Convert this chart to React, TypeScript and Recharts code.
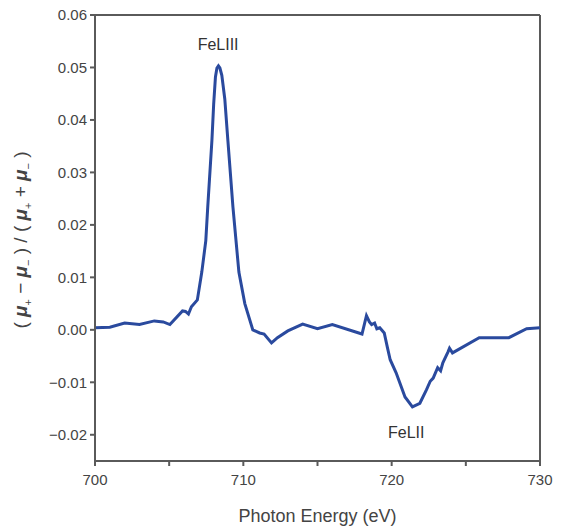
import { LineChart, Line, XAxis, YAxis, ReferenceLine, Label } from 'recharts';

const energy = [
  700, 701, 702, 703, 704, 704.6, 705.05, 705.9, 706.1, 706.3, 706.5, 706.9, 707.2, 707.47, 707.6, 707.88,
  708.0, 708.12, 708.22, 708.32, 708.42, 708.55, 708.75, 708.96, 709.3, 709.7, 710.1, 710.64, 711.1, 711.4, 711.9,
  712.3, 713.0, 714.0, 715.0, 716.0, 718.0, 718.3, 718.5, 718.65, 718.85, 719.0, 719.2, 719.5, 719.7, 719.9,
  720.3, 720.9, 721.4, 721.9, 722.35, 722.6, 722.8, 723.1, 723.3, 723.45, 723.8, 723.9, 724.1, 725.9,
  727.9, 729.1, 730,
];
const dichroism = [
  0.0004, 0.0005, 0.0013, 0.001, 0.0017, 0.0015, 0.001, 0.0036, 0.0035, 0.003, 0.0044, 0.0057, 0.011, 0.017,
  0.0234, 0.036, 0.043, 0.0482, 0.0499, 0.0503, 0.0499, 0.0485, 0.044, 0.036, 0.0234, 0.011, 0.005, 0.0, -0.0006, -0.0008,
  -0.0025, -0.0015, -0.0002, 0.0011, 0.0002, 0.001, -0.0008, 0.0027, 0.0015, 0.001, 0.0013, 0.0002, 0.0004,
  -0.0006, -0.0032, -0.0057, -0.0082, -0.0128, -0.0147, -0.014, -0.0114, -0.0098, -0.0092, -0.0072, -0.0078,
  -0.0063, -0.0042, -0.0035, -0.0044, -0.0015, -0.0015, 0.0002, 0.0004,
];
const xTicks = [700, 705, 710, 715, 720, 725, 730];
const yTicks = [-0.02, -0.01, 0, 0.01, 0.02, 0.03, 0.04, 0.05, 0.06];

const data = energy.map((e, i) => ({ e, v: dichroism[i] }));

const font = 'Liberation Sans, Arial, sans-serif';
const axisColor = '#5a5a5a';

const fmtY = (v: number) => v.toFixed(2).replace('-', '\u2212');
const fmtX = (v: number) => (v % 10 === 0 ? String(v) : '');

function YTitle({ viewBox }: any) {
  const cy = viewBox.y + viewBox.height / 2 + 2;
  const cx = 27;
  return (
    <text
      x={cx}
      y={cy}
      transform={`rotate(-90, ${cx}, ${cy})`}
      textAnchor="middle"
      fontFamily={font}
      fontSize={19}
      fill="#444"
    >
      <tspan>( </tspan>
      <tspan fontStyle="italic" fontWeight="bold">μ</tspan>
      <tspan fontSize={11} dy={5}>+</tspan>
      <tspan dy={-5}> − </tspan>
      <tspan fontStyle="italic" fontWeight="bold">μ</tspan>
      <tspan fontSize={11} dy={5}>−</tspan>
      <tspan dy={-5}> ) / ( </tspan>
      <tspan fontStyle="italic" fontWeight="bold">μ</tspan>
      <tspan fontSize={11} dy={5}>+</tspan>
      <tspan dy={-5}> + </tspan>
      <tspan fontStyle="italic" fontWeight="bold">μ</tspan>
      <tspan fontSize={11} dy={5}>−</tspan>
      <tspan dy={-5}> )</tspan>
    </text>
  );
}

export default function App() {
  return (
    <div style={{ position: 'absolute', left: 0, top: 0, background: '#fff' }}>
      <LineChart
        width={561}
        height={532}
        data={data}
        margin={{ top: 15, right: 21, left: 35, bottom: 41 }}
      >
        <XAxis
          dataKey="e"
          type="number"
          domain={[700, 730]}
          ticks={xTicks}
          tickFormatter={fmtX}
          allowDataOverflow
          stroke={axisColor}
          strokeWidth={2}
          tickSize={5}
          tick={{ fill: '#444', fontSize: 15, fontFamily: font }}
          tickMargin={8}
          height={30}
        >
          <Label
            value="Photon Energy (eV)"
            position="bottom"
            offset={18}
            style={{ fill: '#444', fontSize: 18, fontFamily: font }}
          />
        </XAxis>
        <YAxis
          type="number"
          domain={[-0.025, 0.06]}
          ticks={yTicks}
          allowDataOverflow
          tickFormatter={fmtY}
          stroke={axisColor}
          strokeWidth={2}
          tickSize={5}
          tick={{ fill: '#444', fontSize: 15, fontFamily: font }}
          tickMargin={3}
          width={60}
        >
          <Label content={<YTitle />} />
        </YAxis>
        <ReferenceLine y={0.06} stroke={axisColor} strokeWidth={2} />
        <ReferenceLine x={730} stroke={axisColor} strokeWidth={2} />
        <ReferenceLine
          x={708.3}
          stroke="none"
          label={{ value: 'FeLIII', position: 'insideTop', offset: 24, fill: '#333', fontSize: 16, fontFamily: font }}
        />
        <ReferenceLine
          y={-0.0195}
          stroke="none"
          label={{ value: 'FeLII', position: 'insideLeft', dx: 288, fill: '#333', fontSize: 16, fontFamily: font }}
        />
        <Line
          type="linear"
          dataKey="v"
          stroke="#2a4a9e"
          strokeWidth={3}
          dot={false}
          isAnimationActive={false}
        />
      </LineChart>
    </div>
  );
}
